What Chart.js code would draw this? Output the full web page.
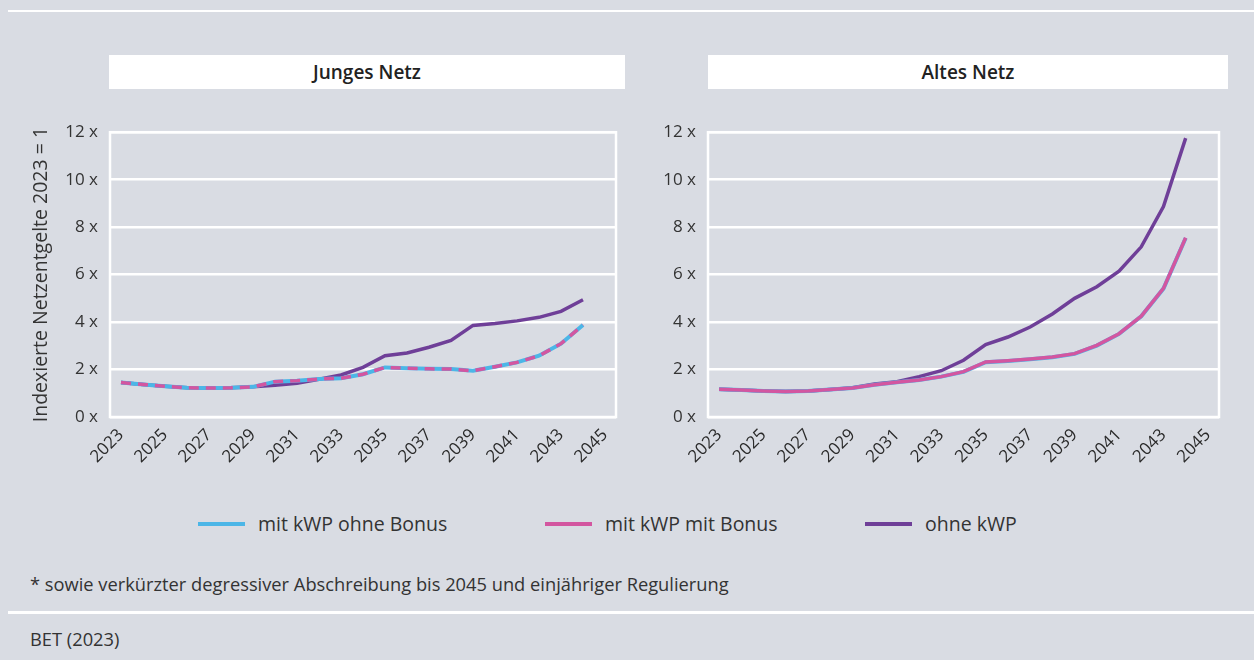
<!DOCTYPE html>
<html><head><meta charset="utf-8">
<script src="https://cdn.jsdelivr.net/npm/chart.js@4.4.0/dist/chart.umd.min.js"></script>
<style>
html,body{margin:0;padding:0;}
body{width:1254px;height:660px;background:#d9dce3;position:relative;overflow:hidden;font-family:"Open Sans",sans-serif;color:#333;}
.hline{position:absolute;left:8px;right:0;height:2px;background:#fff;}
.ptitle{position:absolute;top:55px;height:34px;background:#fff;font-weight:600;font-size:19px;line-height:34px;text-align:center;color:#222;}
canvas{position:absolute;}
#c1{left:20px;top:110px;}
#c2{left:640px;top:110px;}
.leg{position:absolute;top:511px;font-size:19.5px;line-height:26px;color:#333;white-space:nowrap;}
.leg span.s{position:absolute;top:11px;width:47px;height:4px;}
.note{position:absolute;left:30px;font-size:18.3px;color:#333;white-space:nowrap;}
</style></head><body>
<div class="hline" style="top:10px"></div>
<div class="hline" style="top:611px;height:3px"></div>
<div class="ptitle" style="left:109px;width:516px">Junges Netz</div>
<div class="ptitle" style="left:708px;width:520px">Altes Netz</div>
<div id="c1w"><canvas id="c1" width="620" height="370"></canvas></div>
<div id="c2w"><canvas id="c2" width="614" height="370"></canvas></div>
<div id="legend"></div>
<div class="note" style="top:571px">* sowie verkürzter degressiver Abschreibung bis 2045 und einjähriger Regulierung</div>
<div class="note" style="top:626px">BET (2023)</div>
<script>
const years = ["2023","2024","2025","2026","2027","2028","2029","2030","2031","2032","2033","2034","2035","2036","2037","2038","2039","2040","2041","2042","2043","2044","2045"];
const yTicks = [0,2,4,6,8,10,12];
const seriesNames = ["mit kWP ohne Bonus","mit kWP mit Bonus","ohne kWP"];
const seriesColors = ["#4cb6e7","#d356a0","#6f3f98"];
// Junges Netz
const jungOhneBonus = [1.45,1.37,1.30,1.23,1.22,1.23,1.27,1.49,1.53,1.60,1.63,1.80,2.09,2.05,2.03,2.02,1.95,2.12,2.30,2.58,3.09,3.88,null];
const jungMitBonus  = [1.45,1.37,1.30,1.23,1.22,1.23,1.27,1.49,1.53,1.60,1.63,1.80,2.09,2.05,2.03,2.02,1.95,2.12,2.30,2.58,3.09,3.88,null];
const jungOhneKWP   = [1.45,1.37,1.30,1.23,1.22,1.23,1.27,1.34,1.42,1.59,1.77,2.09,2.58,2.70,2.94,3.23,3.86,3.94,4.05,4.20,4.45,4.94,null];
// Altes Netz
const altOhneBonus  = [1.17,1.14,1.10,1.07,1.10,1.16,1.22,1.36,1.46,1.56,1.70,1.90,2.31,2.36,2.43,2.52,2.66,3.01,3.50,4.24,5.41,7.54,null];
const altMitBonus   = [1.17,1.14,1.10,1.07,1.10,1.16,1.22,1.36,1.46,1.56,1.70,1.91,2.32,2.37,2.44,2.53,2.67,3.02,3.51,4.25,5.42,7.55,null];
const altOhneKWP    = [1.17,1.14,1.10,1.07,1.10,1.16,1.23,1.39,1.49,1.70,1.95,2.39,3.05,3.37,3.79,4.34,5.00,5.49,6.14,7.17,8.87,11.75,null];

const borderPlugin = {
  id:'plotBorder',
  beforeDatasetsDraw(chart){
    const a = chart.chartArea, ctx = chart.ctx;
    ctx.save(); ctx.strokeStyle='#fff'; ctx.lineWidth=2.5;
    ctx.strokeRect(a.left, a.top, a.right-a.left, a.bottom-a.top);
    ctx.restore();
  }
};

function makeChart(id, data, dashPink, yAxisWidth, padRight, showTitle){
  const ds = [
    {label:seriesNames[1], data:data[1], borderColor:seriesColors[1], borderWidth:3.5, borderDash: dashPink?[10,7]:[], pointRadius:0, tension:0, fill:false},
    {label:seriesNames[0], data:data[0], borderColor:seriesColors[0], borderWidth:4, pointRadius:0, tension:0, fill:false},
    {label:seriesNames[2], data:data[2], borderColor:seriesColors[2], borderWidth:3.5, pointRadius:0, tension:0, fill:false}
  ];
  return new Chart(document.getElementById(id), {
    type:'line',
    data:{labels:years, datasets:ds},
    plugins:[borderPlugin],
    options:{
      responsive:false, animation:false,
      layout:{padding:{top:20,right:padRight,bottom:0,left:0}},
      plugins:{legend:{display:false}, tooltip:{enabled:false}},
      scales:{
        x:{
          offset:true,
          grid:{display:false, drawTicks:false},
          border:{display:false},
          ticks:{autoSkip:false, maxRotation:45, minRotation:45, padding:8, color:'#2a2a2a',
            font:{family:'"Open Sans"', size:17},
            callback:function(v,i){ return i%2===0 ? years[i] : ''; }},
          afterFit(s){ s.height = 63; }
        },
        y:{
          min:0, max:12,
          afterBuildTicks(s){ s.ticks = yTicks.map(v=>({value:v})); },
          grid:{color:'#fff', lineWidth:2.5, drawTicks:false},
          border:{display:false},
          ticks:{padding:12, color:'#333', font:{family:'"Open Sans"', size:17},
            callback:v=>v+' x'},
          title:{display:showTitle, text:'Indexierte Netzentgelte 2023 = 1', color:'#333',
            font:{family:'"Open Sans"', size:19.5}, padding:{top:10,bottom:2}},
          afterFit(s){ s.width = yAxisWidth; }
        }
      }
    }
  });
}
makeChart('c1', [jungOhneBonus, jungMitBonus, jungOhneKWP], true, 90, 24, true);
makeChart('c2', [altOhneBonus, altMitBonus, altOhneKWP], false, 68, 35, false);

// legend
const legX = [198,545,865];
const leg = document.getElementById('legend');
seriesNames.forEach((n,i)=>{
  const d = document.createElement('div');
  d.className='leg';
  d.style.left = legX[i]+'px';
  d.innerHTML = '<span class="s" style="left:0;background:'+seriesColors[i]+'"></span><span style="margin-left:60px">'+n+'</span>';
  leg.appendChild(d);
});
</script>
</body></html>
